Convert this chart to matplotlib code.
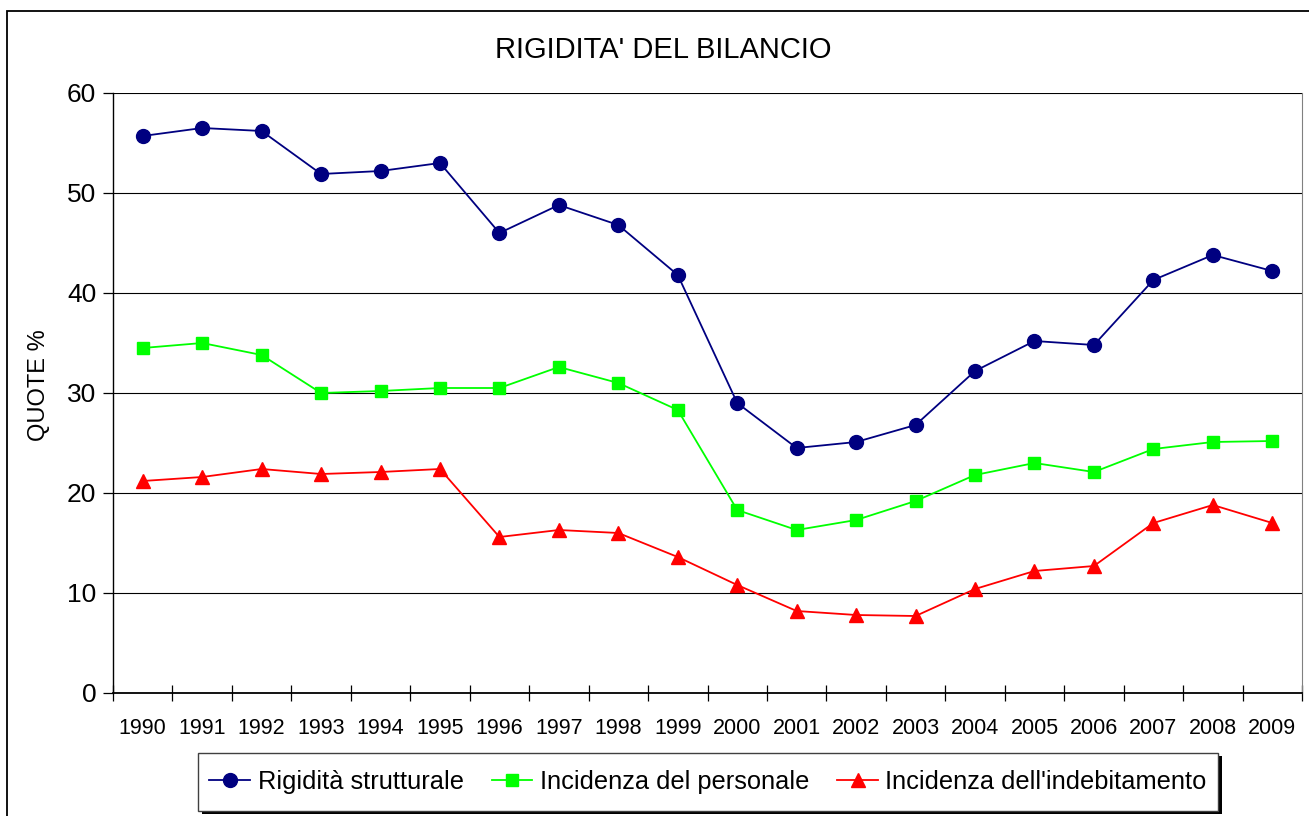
import matplotlib
matplotlib.use("Agg")
import matplotlib.pyplot as plt
from matplotlib.patches import Rectangle
import numpy as np

plt.rcParams['font.family'] = ['Liberation Sans', 'DejaVu Sans']

# Dati
anni = ['1990', '1991', '1992', '1993', '1994', '1995', '1996', '1997', '1998', '1999',
        '2000', '2001', '2002', '2003', '2004', '2005', '2006', '2007', '2008', '2009']
rigidita = [55.7, 56.5, 56.2, 51.9, 52.2, 53.0, 46.0, 48.8, 46.8, 41.8,
            29.0, 24.5, 25.1, 26.8, 32.2, 35.2, 34.8, 41.3, 43.8, 42.2]
personale = [34.5, 35.0, 33.8, 30.0, 30.2, 30.5, 30.5, 32.6, 31.0, 28.3,
             18.3, 16.3, 17.3, 19.2, 21.8, 23.0, 22.1, 24.4, 25.1, 25.2]
indebitamento = [21.2, 21.6, 22.4, 21.9, 22.1, 22.4, 15.6, 16.3, 16.0, 13.6,
                 10.8, 8.2, 7.8, 7.7, 10.4, 12.2, 12.7, 17.0, 18.8, 17.0]

W, H = 1309, 816
fig = plt.figure(figsize=(W / 100, H / 100), dpi=100)

# cornice esterna
fig.patches.append(Rectangle((7 / W, -0.1), 1.2, 1 - 10.5 / H + 0.1, transform=fig.transFigure,
                             fill=False, edgecolor='black', linewidth=1.3))

ax = fig.add_axes([113 / W, 1 - 693 / H, (1302 - 113) / W, 600 / H])
x = np.arange(len(anni))

ax.plot(x, rigidita, color='#000080', marker='o', markersize=10, linewidth=1.3,
        label='Rigidità strutturale')
ax.plot(x, personale, color='#00FF00', marker='s', markersize=9, linewidth=1.3,
        label='Incidenza del personale')
ax.plot(x, indebitamento, color='#FF0000', marker='^', markersize=10, linewidth=1.3,
        label="Incidenza dell'indebitamento")

ax.set_xlim(-0.5, len(anni) - 0.5)
ax.set_ylim(0, 60)
ax.set_yticks(range(0, 61, 10))
ax.yaxis.grid(True, color='black', linewidth=0.8)
ax.set_axisbelow(True)

ax.set_xticks(x)
ax.set_xticklabels(anni, fontsize=15.5)
ax.set_xticks(np.arange(-0.5, len(anni), 1), minor=True)
ax.tick_params(axis='x', which='major', length=0, pad=18)
ax.tick_params(axis='x', which='minor', length=12, direction='inout', width=0.9)
ax.tick_params(axis='y', labelsize=19, length=7, width=0.9, pad=5)

ax.spines['top'].set_visible(False)
ax.spines['right'].set_color('#808080')
ax.spines['left'].set_linewidth(1.0)
ax.spines['bottom'].set_linewidth(1.3)

ax.set_ylabel('QUOTE %', fontsize=17)
ax.yaxis.set_label_coords((50 - 113) / (1302 - 113), (693 - 385) / 600)

fig.text((493 + 833) / 2 / W, 1 - 50 / H, "RIGIDITA' DEL BILANCIO", ha='center', va='center',
         fontsize=21)

# legenda con ombra
fig.patches.append(Rectangle((202 / W, 1 - 814 / H), 1020 / W, 58 / H, transform=fig.transFigure,
                             facecolor='black', edgecolor='none'))
fig.patches.append(Rectangle((198 / W, 1 - 811 / H), 1020 / W, 58 / H, transform=fig.transFigure,
                             facecolor='white', edgecolor='#404040', linewidth=1.0))
leg = fig.legend(loc='center', bbox_to_anchor=(708 / W, 1 - 782 / H), ncol=3, fontsize=18.3,
                 frameon=False, handlelength=1.6, handletextpad=0.3, columnspacing=1.1)

fig.savefig('out.png', dpi=100)
